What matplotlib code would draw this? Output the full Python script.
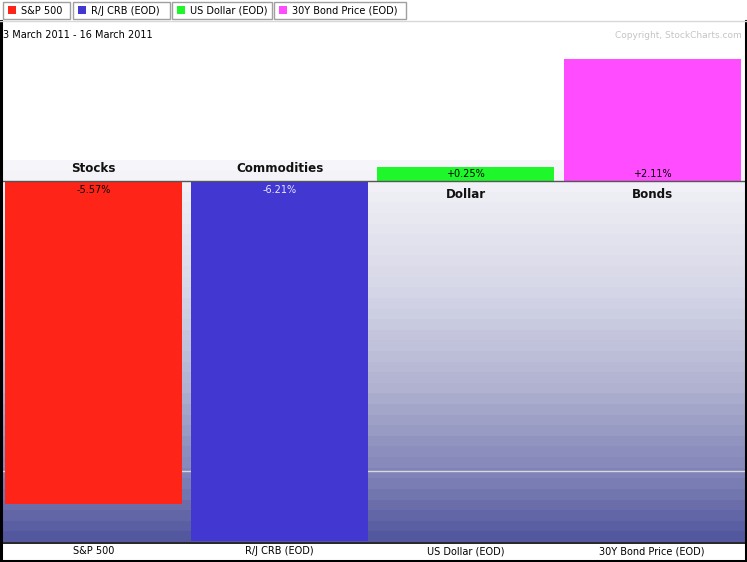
"""Percent-change bar chart: stocks, commodities, dollar, bonds (3-16 March 2011)."""

import matplotlib

matplotlib.use("Agg")
import matplotlib.pyplot as plt
import numpy as np
from matplotlib.colors import LinearSegmentedColormap
from matplotlib.patches import Rectangle

# ---- data -------------------------------------------------------------
categories = ["Stocks", "Commodities", "Dollar", "Bonds"]
tickers = ["S&P 500", "R/J CRB (EOD)", "US Dollar (EOD)", "30Y Bond Price (EOD)"]
pct_change = [-5.57, -6.21, 0.25, 2.11]
bar_colors = ["#ff2418", "#4237d0", "#1ef82a", "#ff4cff"]
value_colors = ["black", "#e8e8ff", "black", "black"]
date_range = "3 March 2011 - 16 March 2011"
copyright_text = "Copyright, StockCharts.com"

W, H = 747, 562
PX_PER_PCT = 57.97
ZERO_PX = 181
SLOT_PX = 186.2
LEFT_PX = 0.4


def fx(px):
    return px / W


def fy(py):
    return 1 - py / H


def pct_at(py):
    return (ZERO_PX - py) / PX_PER_PCT


fig = plt.figure(figsize=(W / 100, H / 100), dpi=100)
fig.patch.set_facecolor("white")

# main plotting area
n = len(categories)
ax = fig.add_axes([fx(LEFT_PX), fy(542), fx(SLOT_PX * n), 521 / H])
ax.set_xlim(-0.5, n - 0.5)
ax.set_ylim(pct_at(542), pct_at(21))
ax.axis("off")

# background gradient, light at the top, slate blue at the bottom
grad_cmap = LinearSegmentedColormap.from_list(
    "bg",
    [(0.0, "#f6f6fa"), (0.08, "#eeeef5"), (0.35, "#d4d5e6"),
     (0.6, "#b0b2d0"), (0.85, "#7d80b5"), (1.0, "#53579e")],
)
steps = 36
grad = np.linspace(0, 1, steps).reshape(-1, 1)
ax.imshow(grad, cmap=grad_cmap, aspect="auto", interpolation="nearest",
          extent=(-0.5, n - 0.5, pct_at(542), pct_at(160)), zorder=0)

ax.axhline(-5, color="#d8d8d8", lw=1, zorder=1)

x = np.arange(n)
ax.bar(x, pct_change, width=0.95, color=bar_colors, zorder=2)
ax.axhline(0, color="#555555", lw=1, zorder=3)

for xi, cat, val, vcol in zip(x, categories, pct_change, value_colors):
    sign = "+" if val > 0 else ""
    if val < 0:
        cat_y, val_y = pct_at(168), pct_at(190)
    else:
        cat_y, val_y = pct_at(194), pct_at(174)
    ax.text(xi, cat_y, cat, ha="center", va="center", fontsize=8.6,
            fontweight="bold", color="#111111", zorder=4)
    ax.text(xi, val_y, f"{sign}{val:.2f}%", ha="center", va="center",
            fontsize=7, color=vcol, zorder=4)

# bottom strip with ticker names
for i, name in enumerate(tickers):
    fig.text(fx(LEFT_PX + SLOT_PX * (i + 0.5)), fy(551), name, ha="center",
             va="center", fontsize=7, color="black")

# frame
line_kw = dict(transform=fig.transFigure)
fig.add_artist(plt.Line2D([fx(1), fx(1)], [fy(21), fy(561)], color="black",
                          lw=2.2, **line_kw))
fig.add_artist(plt.Line2D([fx(745.5), fx(745.5)], [fy(21), fy(561)],
                          color="black", lw=2.2, **line_kw))
fig.add_artist(plt.Line2D([fx(0), fx(747)], [fy(560.8), fy(560.8)],
                          color="black", lw=2.2, **line_kw))
fig.add_artist(plt.Line2D([fx(0), fx(747)], [fy(542.5), fy(542.5)],
                          color="black", lw=1.2, **line_kw))
fig.add_artist(plt.Line2D([fx(0), fx(747)], [fy(21), fy(21)],
                          color="#d8d8d8", lw=1, **line_kw))

# legend tabs along the top
tab_edges = [(3, 70), (73, 170), (172, 272), (274, 406)]
for (x0, x1), name, col in zip(tab_edges, tickers, bar_colors):
    fig.add_artist(Rectangle((fx(x0), fy(19)), fx(x1 - x0), 17 / H,
                             transform=fig.transFigure, facecolor="white",
                             edgecolor="#a0a0a0", lw=1))
    fig.add_artist(Rectangle((fx(x0 + 5), fy(14)), fx(8), 8 / H,
                             transform=fig.transFigure, facecolor=col,
                             edgecolor="none"))
    fig.text(fx(x0 + 18), fy(10.5), name, ha="left", va="center",
             fontsize=7, color="black")

fig.text(fx(3), fy(35), date_range, ha="left", va="center", fontsize=7,
         color="black")
fig.text(fx(742), fy(35), copyright_text, ha="right", va="center",
         fontsize=6.5, color="#c4c4c4")

fig.savefig("out.png", dpi=100)
